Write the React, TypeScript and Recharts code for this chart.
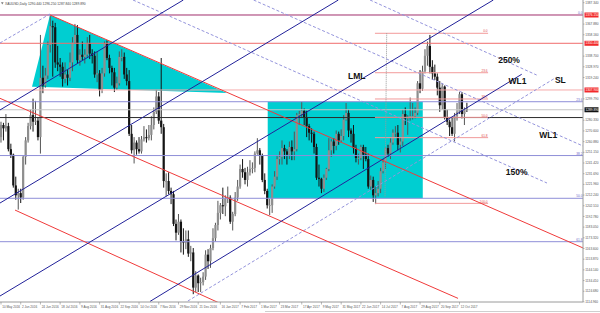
import React from "react";
import {
  ComposedChart, Bar, Area, XAxis, YAxis, ReferenceLine, ReferenceArea, ReferenceDot,
} from "recharts";

const FONT = "'Liberation Sans', Arial, sans-serif";

// XAUUSD, two trading days per candle: [open, high, low, close]
const may16 = [
  [1265, 1279, 1260, 1276], [1276, 1278, 1262, 1273], [1273, 1286, 1270, 1275], [1275, 1278, 1252, 1254],
  [1254, 1259, 1246, 1249], [1249, 1250, 1219, 1221], [1221, 1229, 1208, 1212], [1212, 1218, 1199, 1214],
];
const jun16 = [
  [1214, 1218, 1205, 1210], [1210, 1248, 1208, 1247], [1247, 1265, 1240, 1262], [1262, 1278, 1260, 1275],
  [1275, 1290, 1272, 1285], [1285, 1300, 1270, 1279], [1279, 1298, 1276, 1280], [1280, 1283, 1262, 1265],
  [1265, 1358, 1250, 1319], [1319, 1330, 1305, 1312], [1312, 1328, 1310, 1321],
];
const jul16 = [
  [1321, 1352, 1318, 1349], [1349, 1375, 1342, 1366], [1366, 1371, 1320, 1365], [1365, 1369, 1328, 1333],
  [1333, 1348, 1325, 1331], [1331, 1337, 1320, 1329], [1329, 1333, 1311, 1318], [1318, 1333, 1314, 1322],
  [1322, 1326, 1312, 1319], [1319, 1342, 1316, 1333], [1333, 1356, 1325, 1351],
];
const aug16 = [
  [1351, 1368, 1350, 1358], [1358, 1367, 1332, 1335], [1335, 1345, 1330, 1340], [1340, 1352, 1335, 1338],
  [1338, 1345, 1332, 1340], [1340, 1356, 1338, 1350], [1350, 1358, 1336, 1341], [1341, 1345, 1332, 1339],
  [1339, 1343, 1319, 1322], [1322, 1343, 1315, 1323], [1323, 1326, 1302, 1308],
];
const sep16 = [
  [1308, 1328, 1305, 1323], [1323, 1352, 1320, 1350], [1350, 1353, 1335, 1337], [1337, 1340, 1323, 1328],
  [1328, 1330, 1312, 1324], [1324, 1328, 1306, 1310], [1310, 1320, 1308, 1314], [1314, 1343, 1312, 1338],
  [1338, 1345, 1334, 1338], [1338, 1342, 1318, 1322], [1322, 1328, 1312, 1316],
];
const oct16 = [
  [1316, 1326, 1266, 1268], [1268, 1276, 1250, 1253], [1253, 1265, 1241, 1260], [1260, 1262, 1249, 1254],
  [1254, 1265, 1250, 1252], [1252, 1266, 1250, 1263], [1263, 1275, 1261, 1265], [1265, 1272, 1260, 1264],
  [1264, 1276, 1262, 1267], [1267, 1284, 1262, 1276], [1276, 1292, 1272, 1288],
];
const nov16 = [
  [1288, 1308, 1286, 1302], [1302, 1306, 1277, 1280], [1280, 1337, 1268, 1274], [1274, 1277, 1219, 1225],
  [1225, 1232, 1211, 1225], [1225, 1233, 1213, 1216], [1216, 1219, 1204, 1213], [1213, 1216, 1184, 1186],
  [1186, 1190, 1171, 1178], [1178, 1195, 1176, 1188], [1188, 1190, 1160, 1170],
];
const dec16 = [
  [1170, 1182, 1158, 1169], [1169, 1180, 1163, 1172], [1172, 1180, 1156, 1159], [1159, 1166, 1152, 1160],
  [1160, 1164, 1122, 1128], [1128, 1143, 1124, 1139], [1139, 1140, 1124, 1132], [1132, 1137, 1124, 1133],
  [1133, 1142, 1130, 1138], [1138, 1162, 1135, 1158], [1158, 1163, 1145, 1152],
];
const jan17 = [
  [1152, 1167, 1146, 1164], [1164, 1182, 1162, 1173], [1173, 1187, 1170, 1185], [1185, 1207, 1180, 1196],
  [1196, 1205, 1190, 1203], [1203, 1219, 1195, 1202], [1202, 1212, 1193, 1209], [1209, 1220, 1205, 1210],
  [1210, 1212, 1186, 1188], [1188, 1197, 1180, 1195], [1195, 1215, 1193, 1210],
];
const feb17 = [
  [1210, 1226, 1207, 1220], [1220, 1240, 1218, 1236], [1236, 1245, 1228, 1233], [1233, 1237, 1222, 1226],
  [1226, 1238, 1220, 1233], [1233, 1244, 1230, 1236], [1236, 1242, 1232, 1237], [1237, 1252, 1233, 1250],
  [1250, 1264, 1249, 1253], [1253, 1255, 1240, 1248],
];
const mar17 = [
  [1248, 1250, 1224, 1226], [1226, 1232, 1213, 1216], [1216, 1218, 1200, 1203], [1203, 1209, 1194, 1203],
  [1203, 1222, 1196, 1220], [1220, 1234, 1218, 1229], [1229, 1248, 1226, 1245], [1245, 1252, 1240, 1247],
  [1247, 1262, 1240, 1255], [1255, 1258, 1245, 1252], [1252, 1254, 1240, 1249],
];
const apr17 = [
  [1249, 1261, 1245, 1256], [1256, 1262, 1244, 1252], [1252, 1270, 1244, 1254], [1254, 1287, 1252, 1285],
  [1285, 1289, 1276, 1286], [1286, 1297, 1283, 1289], [1289, 1291, 1276, 1283], [1283, 1289, 1265, 1275],
  [1275, 1277, 1262, 1269], [1269, 1273, 1260, 1268],
];
const may17 = [
  [1268, 1270, 1250, 1256], [1256, 1259, 1226, 1228], [1228, 1240, 1220, 1227], [1227, 1228, 1214, 1218],
  [1218, 1231, 1215, 1228], [1228, 1237, 1226, 1236], [1236, 1264, 1234, 1253], [1253, 1263, 1247, 1261],
  [1261, 1264, 1250, 1257], [1257, 1271, 1253, 1268], [1268, 1270, 1258, 1262],
];
const jun17 = [
  [1262, 1272, 1260, 1266], [1266, 1285, 1262, 1281], [1281, 1296, 1280, 1287], [1287, 1290, 1265, 1271],
  [1271, 1273, 1260, 1268], [1268, 1276, 1250, 1255], [1255, 1258, 1242, 1246], [1246, 1250, 1240, 1246],
  [1246, 1258, 1244, 1256], [1256, 1258, 1236, 1249], [1249, 1256, 1243, 1245],
];
const jul17 = [
  [1245, 1250, 1218, 1220], [1220, 1230, 1217, 1226], [1226, 1229, 1206, 1212], [1212, 1220, 1204, 1214],
  [1214, 1225, 1211, 1218], [1218, 1237, 1214, 1234], [1234, 1245, 1232, 1242], [1242, 1256, 1236, 1255],
  [1255, 1258, 1247, 1250], [1250, 1264, 1245, 1260], [1260, 1272, 1258, 1269],
];
const aug17 = [
  [1269, 1275, 1265, 1269], [1269, 1276, 1253, 1258], [1258, 1265, 1251, 1261], [1261, 1290, 1257, 1286],
  [1286, 1292, 1276, 1282], [1282, 1285, 1267, 1283], [1283, 1301, 1280, 1284], [1284, 1296, 1281, 1284],
  [1284, 1292, 1282, 1287], [1287, 1316, 1285, 1314], [1314, 1326, 1305, 1309],
];
const sep17 = [
  [1309, 1330, 1307, 1325], [1325, 1345, 1323, 1339], [1339, 1352, 1330, 1348], [1348, 1358, 1323, 1329],
  [1329, 1335, 1317, 1323], [1323, 1331, 1317, 1320], [1320, 1323, 1303, 1310], [1310, 1316, 1288, 1294],
  [1294, 1314, 1290, 1311], [1311, 1312, 1281, 1283], [1283, 1290, 1276, 1279],
];
const oct17 = [
  [1279, 1281, 1266, 1274], [1274, 1283, 1266, 1268], [1268, 1287, 1261, 1284], [1284, 1296, 1280, 1288],
  [1288, 1306, 1286, 1304], [1304, 1306, 1282, 1286], [1286, 1292, 1276, 1290], [1290.44, 1296.25, 1287.84, 1289.89],
];

const candles = [
  ...may16, ...jun16, ...jul16, ...aug16, ...sep16, ...oct16, ...nov16, ...dec16,
  ...jan17, ...feb17, ...mar17, ...apr17, ...may17, ...jun17, ...jul17, ...aug17, ...sep17, ...oct17,
].map(([o, h, l, c], i) => ({ x: i, o, h, l, c, range: [l, h] }));

const last = candles[candles.length - 1];

// time axis: candle index of each label
const dateTicks = [0, 8, 16, 24, 32, 40, 48, 56, 64, 72, 80, 89, 97, 105, 113, 122, 130, 138, 146, 154, 162, 170, 178, 186];
const dateLabels = [
  "10 May 2016", "2 Jun 2016", "24 Jun 2016", "18 Jul 2016", "9 Aug 2016", "31 Aug 2016", "22 Sep 2016",
  "14 Oct 2016", "7 Nov 2016", "29 Nov 2016", "21 Dec 2016", "16 Jan 2017", "7 Feb 2017", "1 Mar 2017",
  "23 Mar 2017", "17 Apr 2017", "9 May 2017", "31 May 2017", "22 Jun 2017", "14 Jul 2017", "7 Aug 2017",
  "29 Aug 2017", "20 Sep 2017", "12 Oct 2017",
];

// price scale labels (those hidden behind the line boxes are left out)
const priceTicks = [
  1387.34, 1367.88, 1358.16, 1338.7, 1328.97, 1319.24, 1299.79,
  1280.33, 1270.6, 1260.88, 1251.15, 1241.42, 1231.69, 1221.96, 1212.24, 1202.51,
  1192.78, 1183.05, 1173.32, 1163.6, 1153.87, 1144.14, 1134.41, 1124.68, 1114.96,
];

// horizontal levels
const redLevels = [1376.15, 1350.4, 1307.9];
const redColors = ["#d9657f", "#f06c6c", "#f6aaaa"];
const blackLevel = 1282.8;
const fibBlue = [1376.15, 1297.2, 1248.2, 1209.3, 1169.8];
const fibBlueNames = ["0.0", "23.6", "38.2", "50.0", "61.8"];
const fibRed = [1359.5, 1323.6, 1299.7, 1283.0, 1264.5, 1204.7];
const fibRedNames = ["0.0", "23.6", "38.2", "50.0", "61.8", "100.0"];
const fibRedFrom = 151.7;
const fibRedTo = 197.6;

// trend lines: [[candle, price], [candle, price]]
const navyLines = [
  [[-0.41, 1289.7], [73.96, 1389.8]],
  [[-0.41, 1205.0], [136.84, 1389.8]],
  [[-0.41, 1120.35], [199.72, 1389.8]],
  [[60.45, 1115.4], [211.24, 1322.2]],
];
const redLines = [
  [[19.88, 1376.15], [236.1, 1164.1]],
  [[-0.41, 1300.3], [185.4, 1118.2]],
  [[5.68, 1198.6], [88.84, 1113.7]],
];
const purpleLines = [
  [[70.59, 1108.7], [225.43, 1319.6]],
  [[-0.41, 1350.66], [19.88, 1377.06]],
  [[149.7, 1389.8], [217.3, 1321.5]],
  [[102.47, 1389.8], [236.1, 1256.9]],
  [[53.55, 1389.8], [221.5, 1223.2]],
];
const dottedLine = [[156.47, 1359.5], [155.78, 1210.7]];

const box = { x1: 108.2, x2: 171.1, y1: 1209.3, y2: 1297.2 };
const pennant = [
  { x: 12.58, band: [1310.9, 1310.9] },
  { x: 19.88, band: [1310.3, 1376.15] },
  { x: 91.68, band: [1305.14, 1305.14] },
];

const notes = [
  { x: 144.3, p: 1320.6, text: "LML" },
  { x: 206.1, p: 1335.5, text: "250%" },
  { x: 209.5, p: 1316.1, text: "WL1" },
  { x: 226.9, p: 1317.0, text: "SL" },
  { x: 222.0, p: 1266.9, text: "WL1" },
  { x: 209.2, p: 1232.8, text: "150%" },
];

const Candle = (props: any) => {
  const { x, y, width, height, payload } = props;
  if (!payload || height == null || isNaN(y)) return null;
  const { o, h, l, c } = payload;
  const cx = x + width / 2;
  const span = h - l || 1;
  const py = (v: number) => y + ((h - v) / span) * height;
  const up = c >= o;
  const top = py(Math.max(o, c));
  const bot = py(Math.min(o, c));
  return (
    <g>
      <line x1={cx} x2={cx} y1={y} y2={y + height} stroke={up ? "#555" : "#141414"} strokeWidth={1} />
      <rect x={cx - 1.1} y={top} width={2.2} height={Math.max(bot - top, 0.8)} fill={up ? "#8e8e8e" : "#141414"} />
    </g>
  );
};

const PriceTick = (props: any) => {
  const { x, y, payload } = props;
  return (
    <g>
      <line x1={x} x2={x + 1.5} y1={y} y2={y} stroke="#888" strokeWidth={0.6} />
      <text x={x + 2.3} y={y + 1.1} fontSize={3.2} fill="#555" fontFamily={FONT}>{payload.value.toFixed(3)}</text>
    </g>
  );
};

const DateTick = (props: any) => {
  const { x, y, payload } = props;
  const label = dateLabels[dateTicks.indexOf(payload.value)];
  return (
    <g>
      <line x1={x} x2={x} y1={y} y2={y + 2.5} stroke="#888" strokeWidth={0.6} />
      <text x={x + 1.2} y={y + 5.6} fontSize={3.1} fill="#555" fontFamily={FONT}>{label}</text>
    </g>
  );
};

const AxisBox = (props: any) => {
  const vb = props.viewBox;
  if (!vb) return null;
  const bx = vb.x + vb.width + 1.5;
  return (
    <g>
      <rect x={bx} y={vb.y - 2.5} width={14} height={5} fill={props.bg} />
      <text x={bx + 1} y={vb.y + 1.1} fontSize={3.2} fill="#fff" fontFamily={FONT}>{props.price.toFixed(3)}</text>
    </g>
  );
};

const FibLabel = (props: any) => {
  const vb = props.viewBox;
  if (!vb) return null;
  return (
    <text x={vb.x + vb.width - 0.5} y={vb.y - 0.8} textAnchor="end" fontSize={3.2} fill={props.color} fontFamily={FONT}>
      {props.txt}
    </text>
  );
};

const NoteLabel = (props: any) => {
  const vb = props.viewBox;
  if (!vb) return null;
  return (
    <text
      x={vb.x + (vb.width || 0) / 2}
      y={vb.y + (vb.height || 0) / 2}
      textAnchor="middle"
      dominantBaseline="central"
      fontSize={8.5}
      fontWeight={700}
      fill="#111"
      fontFamily={FONT}
    >
      {props.txt}
    </text>
  );
};

const seg = (s: number[][]) => [{ x: s[0][0], y: s[0][1] }, { x: s[1][0], y: s[1][1] }];

export default function App() {
  const header = `XAUUSD,Daily  ${last.o.toFixed(3)} ${last.h.toFixed(3)} ${last.l.toFixed(3)} ${last.c.toFixed(3)}`;
  return (
    <div style={{ position: "absolute", left: 0, top: 0, width: 600, height: 313, background: "#fff" }}>
      <ComposedChart width={600} height={313} data={candles} margin={{ top: 0, right: 0, bottom: 0, left: 0 }}>
        <XAxis
          type="number"
          dataKey="x"
          domain={[-0.406, 236.1]}
          allowDataOverflow
          ticks={dateTicks}
          interval={0}
          height={11}
          tickSize={0}
          tickMargin={0}
          tickLine={false}
          axisLine={{ stroke: "#9a9a9a" }}
          tick={<DateTick />}
        />
        <YAxis
          orientation="right"
          type="number"
          domain={[1114.9, 1389.8]}
          allowDataOverflow
          ticks={priceTicks}
          interval={0}
          width={17}
          tickSize={0}
          tickMargin={0}
          tickLine={false}
          axisLine={{ stroke: "#9a9a9a" }}
          tick={<PriceTick />}
        />

        <ReferenceArea
          x1={box.x1} x2={box.x2} y1={box.y1} y2={box.y2}
          fill="#00ced1" fillOpacity={1} stroke="none" ifOverflow="hidden"
        />
        <Area
          data={pennant}
          dataKey="band"
          type="linear"
          fill="#00ced1"
          fillOpacity={1}
          stroke="none"
          dot={false}
          activeDot={false}
          isAnimationActive={false}
        />

        {fibBlue.map((p, i) => (
          <ReferenceLine
            key={`fb${i}`}
            y={p}
            stroke="#8e8ed8"
            strokeWidth={1}
            label={<FibLabel txt={fibBlueNames[i]} color="#6b6bc8" />}
          />
        ))}
        {redLevels.map((p, i) => (
          <ReferenceLine key={`rl${i}`} y={p} stroke={redColors[i]} strokeWidth={1} label={<AxisBox bg="#f22a2a" price={p} />} />
        ))}
        <ReferenceLine y={last.c} stroke="#c4c4c4" strokeWidth={1} label={<AxisBox bg="#111" price={last.c} />} />
        <ReferenceLine y={blackLevel} stroke="#2a2a2a" strokeWidth={1} />

        {fibRed.map((p, i) => (
          <ReferenceLine
            key={`fr${i}`}
            segment={[{ x: fibRedFrom, y: p }, { x: fibRedTo, y: p }]}
            stroke="#f29a9a"
            strokeWidth={1}
            ifOverflow="hidden"
            label={<FibLabel txt={fibRedNames[i]} color="#e05050" />}
          />
        ))}
        <ReferenceLine segment={seg(dottedLine)} stroke="#9a9a9a" strokeDasharray="1 1" ifOverflow="hidden" />

        {purpleLines.map((s, i) => (
          <ReferenceLine key={`pl${i}`} segment={seg(s)} stroke="#9494dc" strokeDasharray="3 2" strokeWidth={1} ifOverflow="hidden" />
        ))}
        {redLines.map((s, i) => (
          <ReferenceLine key={`rd${i}`} segment={seg(s)} stroke="#f03a3a" strokeWidth={1} ifOverflow="hidden" />
        ))}
        {navyLines.map((s, i) => (
          <ReferenceLine key={`nv${i}`} segment={seg(s)} stroke="#22229a" strokeWidth={1} ifOverflow="hidden" />
        ))}

        <Bar dataKey="range" barSize={2} shape={(p: any) => <Candle {...p} />} isAnimationActive={false} />

        {notes.map((n, i) => (
          <ReferenceDot
            key={`nt${i}`}
            x={n.x}
            y={n.p}
            r={0.5}
            fill="none"
            stroke="none"
            ifOverflow="visible"
            label={<NoteLabel txt={n.text} />}
          />
        ))}
      </ComposedChart>
      <svg width={600} height={313} style={{ position: "absolute", left: 0, top: 0, pointerEvents: "none" }}>
        <path d="M1 2.2 L3.6 2.2 L2.3 4.4 Z" fill="#777" />
        <text x={5} y={4.6} fontSize={3.3} fill="#444" fontFamily={FONT}>{header}</text>
        <line x1={265} x2={600} y1={311.5} y2={311.5} stroke="#cfcfcf" strokeWidth={1} />
      </svg>
    </div>
  );
}
